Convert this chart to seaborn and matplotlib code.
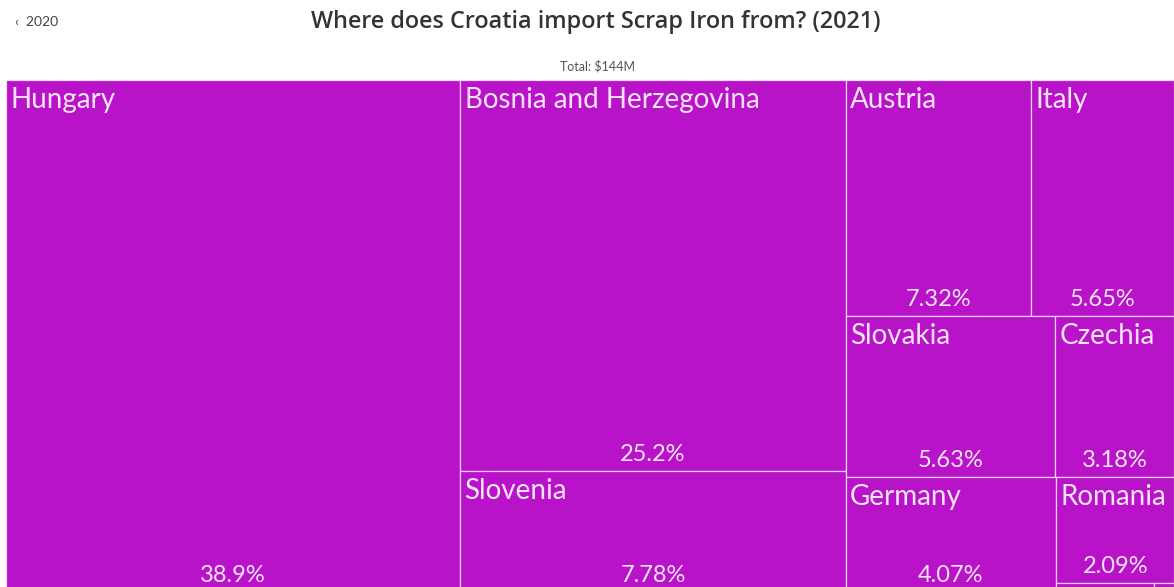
import matplotlib
matplotlib.use("Agg")
import matplotlib.pyplot as plt
import seaborn as sns

# import shares of Croatia's scrap iron imports, 2021 (%)
countries = ["Hungary", "Bosnia and Herzegovina", "Slovenia", "Austria", "Italy",
             "Slovakia", "Czechia", "Germany", "Romania", "Serbia", "Bulgaria"]
shares = [38.9, 25.2, 7.78, 7.32, 5.65, 5.63, 3.18, 4.07, 2.09, 0.15, 0.03]
pct_labels = ["38.9%", "25.2%", "7.78%", "7.32%", "5.65%", "5.63%", "3.18%",
              "4.07%", "2.09%", "", ""]

# nesting of the tiles (columns, then rows, then columns, ...)
tree = [
    "Hungary",
    ["Bosnia and Herzegovina", "Slovenia"],
    [["Austria", "Italy"], ["Slovakia", "Czechia"],
     ["Germany", ["Romania", ["Serbia", "Bulgaria"]]]],
]

share_of = dict(zip(countries, shares))
pct_of = dict(zip(countries, pct_labels))


def size(node):
    if isinstance(node, str):
        return share_of[node]
    return sum(size(c) for c in node)


def layout(node, x0, y0, w, h, depth, out):
    if isinstance(node, str):
        out[node] = (x0, y0, w, h)
        return
    total = size(node)
    pos = 0
    for c in node:
        f = size(c) / total
        if depth % 2 == 0:
            layout(c, x0 + pos * w, y0, f * w, h, depth + 1, out)
        else:
            layout(c, x0, y0 + h - (pos + f) * h, w, f * h, depth + 1, out)
        pos += f


rects = {}
layout(tree, 0, 0, 1, 1, 0, rects)

sns.set_theme(style="white")
plt.rcParams["font.family"] = ["Lato", "DejaVu Sans"]

fig = plt.figure(figsize=(11.74, 5.87), dpi=100)
ax = fig.add_axes([6 / 1174, -5 / 587, 1168 / 1174, 512 / 587])

fill = "#B913C9"
txt = "#F7E4F8"

lefts = [rects[c][0] for c in countries]
bottoms = [rects[c][1] for c in countries]
widths = [rects[c][2] for c in countries]
heights = [rects[c][3] for c in countries]
ax.bar(lefts, heights, width=widths, bottom=bottoms, align="edge",
       color=fill, edgecolor=(1, 1, 1, 0.7), linewidth=0.9)

for c in countries:
    x, y, w, h = rects[c]
    if w < 0.05 or h < 0.1:
        continue
    ax.annotate(c, (x, y + h), xytext=(3, -5), textcoords="offset points",
                ha="left", va="top", fontsize=20, color=txt)
    ax.annotate(pct_of[c], (x + w / 2, y), xytext=(0, 7), textcoords="offset points",
                ha="center", va="baseline", fontsize=17, color=txt)

ax.set_xlim(0, 1)
ax.set_ylim(0, 1)
ax.axis("off")

fig.text(596 / 1174, 1 - 22 / 587, "Where does Croatia import Scrap Iron from? (2021)",
         ha="center", va="center", fontsize=16.8, fontweight="semibold",
         family=["Open Sans", "DejaVu Sans"], color="#333333")
fig.text(15 / 1174, 1 - 22 / 587, "\u2039  2020", ha="left", va="center",
         fontsize=10, color="#444444")
fig.text(598 / 1174, 1 - 66 / 587, "Total: $144M", ha="center", va="center",
         fontsize=9, color="#555555")

fig.savefig("out.png", dpi=100)
